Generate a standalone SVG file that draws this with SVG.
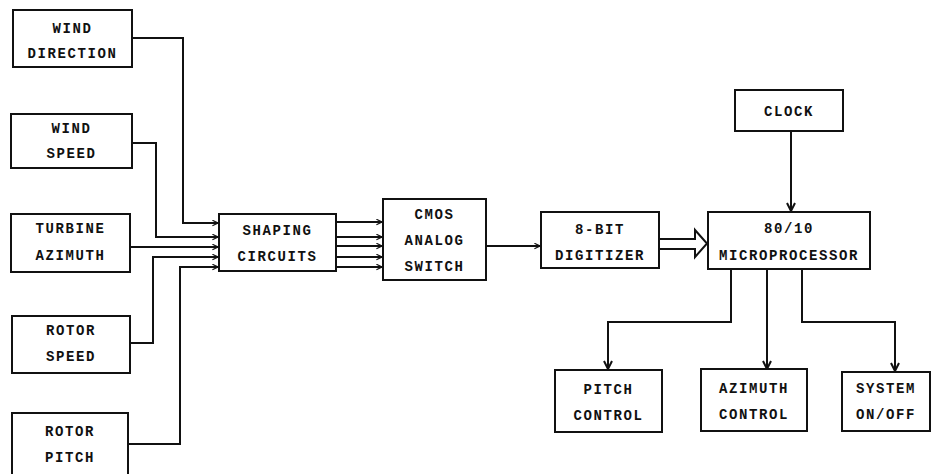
<svg xmlns="http://www.w3.org/2000/svg" width="932" height="474" viewBox="0 0 932 474">
<defs>
<style>
.box{fill:#fff;stroke:#111;stroke-width:2}
.t{font-family:"Liberation Mono","Courier New",monospace;font-weight:bold;font-size:14px;letter-spacing:1.6px;fill:#111;text-anchor:middle}
.c{fill:none;stroke:#111;stroke-width:2}
</style>
<marker id="ah" viewBox="0 0 10 10" refX="9" refY="5" markerWidth="7" markerHeight="7" markerUnits="userSpaceOnUse" orient="auto">
<polyline points="1,1 9,5 1,9" fill="none" stroke="#111" stroke-width="1.6"/>
</marker>
<marker id="ahb" viewBox="0 0 10 10" refX="9" refY="5" markerWidth="10" markerHeight="10" markerUnits="userSpaceOnUse" orient="auto">
<polyline points="1,1 9,5 1,9" fill="none" stroke="#111" stroke-width="2"/>
</marker>
</defs>
<rect width="932" height="474" fill="#fff"/>
<g id="connectors">
<polyline class="c" points="132,38 183,38 183,223 218,223" marker-end="url(#ah)"/>
<polyline class="c" points="132,143 156,143 156,237 218,237" marker-end="url(#ah)"/>
<polyline class="c" points="130,247 218,247" marker-end="url(#ah)"/>
<polyline class="c" points="130,343 153,343 153,257 218,257" marker-end="url(#ah)"/>
<polyline class="c" points="128,444 180,444 180,267 218,267" marker-end="url(#ah)"/>
<line class="c" x1="337" y1="222" x2="382" y2="222" marker-end="url(#ah)"/>
<line class="c" x1="337" y1="237" x2="382" y2="237" marker-end="url(#ah)"/>
<line class="c" x1="337" y1="246" x2="382" y2="246" marker-end="url(#ah)"/>
<line class="c" x1="337" y1="257" x2="382" y2="257" marker-end="url(#ah)"/>
<line class="c" x1="337" y1="267" x2="382" y2="267" marker-end="url(#ah)"/>
<line class="c" x1="486" y1="246" x2="540" y2="246" marker-end="url(#ah)"/>
<path class="c" d="M659,239 H695 V230 L707,243.5 L695,257 V249 H659"/>
<line class="c" x1="791" y1="131" x2="791" y2="211" marker-end="url(#ahb)"/>
<polyline class="c" points="731,269 731,322 608,322 608,369" marker-end="url(#ahb)"/>
<line class="c" x1="767" y1="269" x2="767" y2="369" marker-end="url(#ahb)"/>
<polyline class="c" points="802,269 802,322 895,322 895,371" marker-end="url(#ahb)"/>
</g>
<g id="wind-direction"><rect class="box" x="13" y="10" width="119" height="57"/><text class="t" x="72.5" y="33">WIND</text><text class="t" x="72.5" y="58">DIRECTION</text></g>
<g id="wind-speed"><rect class="box" x="11" y="114" width="121" height="54"/><text class="t" x="71.5" y="133">WIND</text><text class="t" x="71.5" y="158">SPEED</text></g>
<g id="turbine-azimuth"><rect class="box" x="11" y="214" width="119" height="58"/><text class="t" x="70.5" y="233">TURBINE</text><text class="t" x="70.5" y="260">AZIMUTH</text></g>
<g id="rotor-speed"><rect class="box" x="12" y="316" width="118" height="57"/><text class="t" x="71" y="335">ROTOR</text><text class="t" x="71" y="361">SPEED</text></g>
<g id="rotor-pitch"><rect class="box" x="12" y="413" width="116" height="70"/><text class="t" x="70" y="436">ROTOR</text><text class="t" x="70" y="462">PITCH</text></g>
<g id="shaping-circuits"><rect class="box" x="219" y="214" width="117" height="57"/><text class="t" x="277.5" y="235">SHAPING</text><text class="t" x="277.5" y="261">CIRCUITS</text></g>
<g id="cmos-analog-switch"><rect class="box" x="383" y="199" width="103" height="81"/><text class="t" x="434.5" y="219">CMOS</text><text class="t" x="434.5" y="245">ANALOG</text><text class="t" x="434.5" y="271">SWITCH</text></g>
<g id="digitizer"><rect class="box" x="541" y="212" width="118" height="56"/><text class="t" x="600" y="234">8-BIT</text><text class="t" x="600" y="260">DIGITIZER</text></g>
<g id="microprocessor"><rect class="box" x="708" y="212" width="162" height="57"/><text class="t" x="789" y="233">80/10</text><text class="t" x="789" y="260">MICROPROCESSOR</text></g>
<g id="clock"><rect class="box" x="735" y="90" width="108" height="41"/><text class="t" x="789" y="116">CLOCK</text></g>
<g id="pitch-control"><rect class="box" x="555" y="370" width="107" height="62"/><text class="t" x="608.5" y="394">PITCH</text><text class="t" x="608.5" y="420">CONTROL</text></g>
<g id="azimuth-control"><rect class="box" x="701" y="369" width="106" height="62"/><text class="t" x="754" y="393">AZIMUTH</text><text class="t" x="754" y="419">CONTROL</text></g>
<g id="system-on-off"><rect class="box" x="842" y="372" width="88" height="59"/><text class="t" x="886" y="393">SYSTEM</text><text class="t" x="886" y="419">ON/OFF</text></g>
</svg>
